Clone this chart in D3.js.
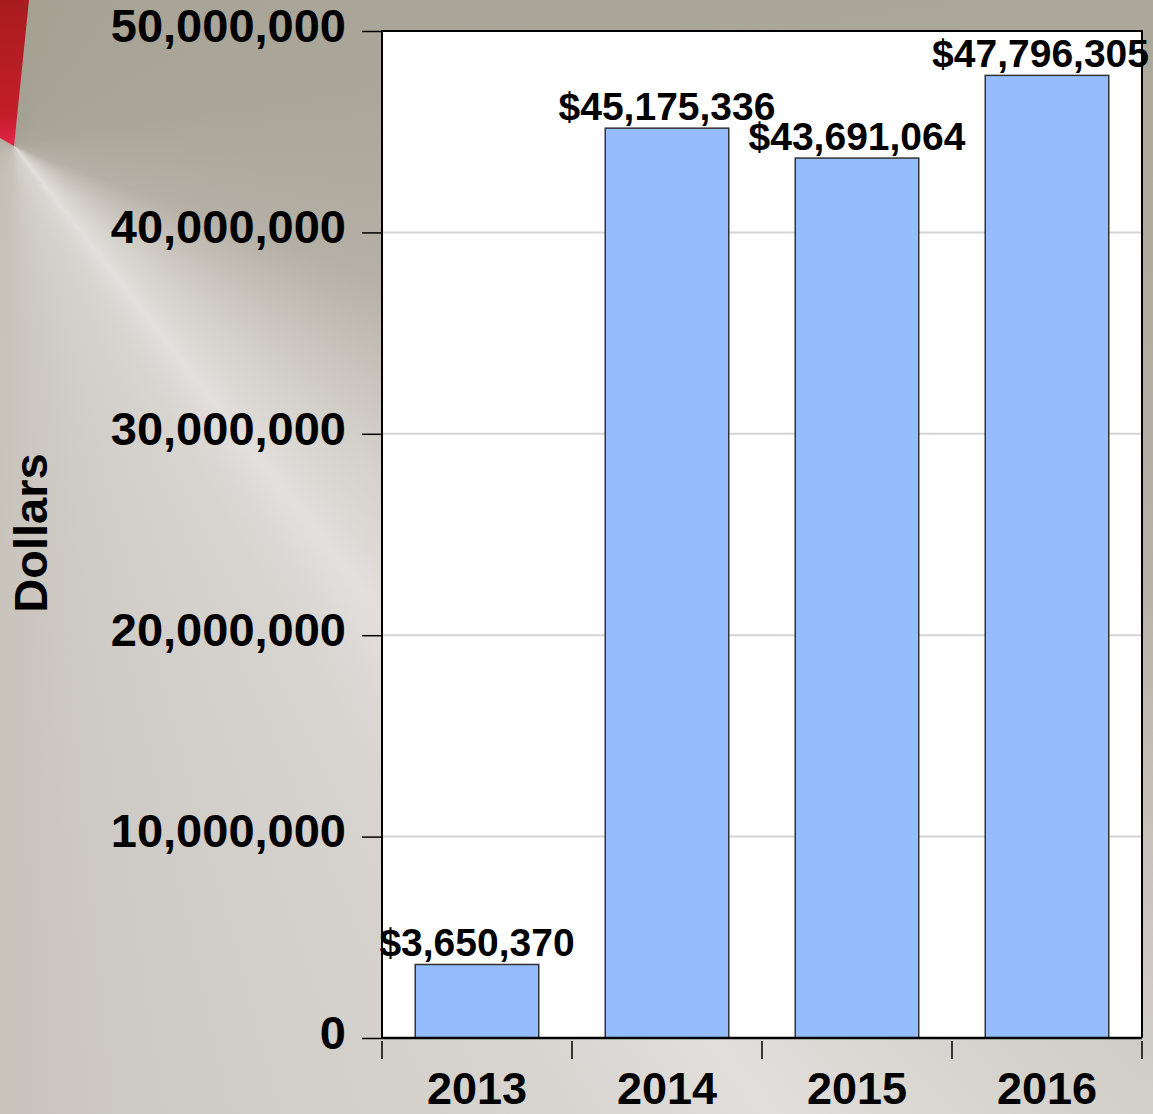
<!DOCTYPE html>
<html>
<head>
<meta charset="utf-8">
<script src="https://cdn.jsdelivr.net/npm/d3@7"></script>
<style>
    body { margin: 0; }
    .chartBoard {
        width: 1153px;
        height: 1114px;
        background: conic-gradient(from 0deg at 14px 146px,
            #a4a193 0deg, #aaa699 80deg, #b4b0a5 110deg, #cac6bf 124deg, #d6d2cd 133deg,
            #e2dfdc 142deg, #d8d4d0 150deg, #cfcbc6 170deg, #c6c2b9 185deg,
            #bfbbb1 230deg, #a4a193 360deg);
    }
    svg text { font-family: "Liberation Sans", Arial, sans-serif; font-weight: bold; fill: #000; }
</style>
</head>
<body>
<div class="chartBoard"></div>
<script>
// chart data
const years = ["2013", "2014", "2015", "2016"];
const dollars = [3650370, 45175336, 43691064, 47796305];
const yTicks = [0, 10000000, 20000000, 30000000, 40000000, 50000000];

const w = 1153, h = 1114;
const pLeft = 382, pRight = 1142, pTop = 31, pBottom = 1038;

const svg = d3.select(".chartBoard")
    .append("svg")
    .attr("width", w)
    .attr("height", h);

// red corner decoration
const defs = svg.append("defs");
const redGrad = defs.append("linearGradient")
    .attr("id", "redGrad")
    .attr("x1", 0).attr("y1", 0).attr("x2", 0).attr("y2", 1);
redGrad.append("stop").attr("offset", "0%").attr("stop-color", "#a81c1f");
redGrad.append("stop").attr("offset", "80%").attr("stop-color", "#c41e2a");
redGrad.append("stop").attr("offset", "100%").attr("stop-color", "#e8234a");
svg.append("path")
    .attr("d", "M0,0 L29,0 L14,146 L0,138 Z")
    .attr("fill", "url(#redGrad)");

// scales
const x = d3.scaleBand()
    .domain(years)
    .range([pLeft, pRight])
    .paddingInner(0.35)
    .paddingOuter(0.175);

const y = d3.scaleLinear()
    .domain([0, 50000000])
    .range([pBottom, pTop]);

// plot background
svg.append("rect")
    .attr("x", pLeft).attr("y", pTop)
    .attr("width", pRight - pLeft).attr("height", pBottom - pTop)
    .attr("fill", "#fff");

// grid lines
svg.append("g")
    .selectAll("line")
    .data(yTicks.filter(d => d > 0 && d < 50000000))
    .enter()
    .append("line")
    .attr("x1", pLeft).attr("x2", pRight)
    .attr("y1", d => y(d)).attr("y2", d => y(d))
    .attr("stroke", "#d4d4d4")
    .attr("stroke-width", 2);

// bars
svg.selectAll("rect.bar")
    .data(years)
    .enter()
    .append("rect")
    .attr("class", "bar")
    .attr("x", d => x(d))
    .attr("width", x.bandwidth())
    .attr("y", (d, i) => y(dollars[i]))
    .attr("height", (d, i) => pBottom - y(dollars[i]))
    .attr("fill", "#95bcfd")
    .attr("stroke", "#333")
    .attr("stroke-width", 1.5);

// plot frame
svg.append("path")
    .attr("d", `M${pLeft},${pBottom} V${pTop} H${pRight} V${pBottom}`)
    .attr("fill", "none")
    .attr("stroke", "#000")
    .attr("stroke-width", 2);

// Y AXIS
const yAxis = d3.axisLeft(y)
    .tickValues(yTicks)
    .tickFormat(d3.format(","))
    .tickSize(20)
    .tickPadding(16);

const gy = svg.append("g")
    .attr("transform", `translate(${pLeft},0)`)
    .call(yAxis);
gy.select(".domain").remove();
gy.selectAll(".tick line").attr("stroke", "#000").attr("stroke-width", 1.5);
gy.selectAll(".tick text")
    .attr("dy", "0.22em")
    .style("font-size", "47px")
    .style("font-family", "'Liberation Sans', Arial, sans-serif")
    .style("font-weight", "bold");

// X AXIS
svg.append("line")
    .attr("x1", pLeft).attr("x2", pRight)
    .attr("y1", pBottom).attr("y2", pBottom)
    .attr("stroke", "#000")
    .attr("stroke-width", 2.5);

const edge = (x.step() - x.bandwidth()) / 2;
const edges = years.map(d => x(d) - edge).concat([x(years[years.length - 1]) + x.bandwidth() + edge]);
svg.append("g")
    .selectAll("line")
    .data(edges)
    .enter()
    .append("line")
    .attr("x1", d => d).attr("x2", d => d)
    .attr("y1", pBottom + 3).attr("y2", pBottom + 21)
    .attr("stroke", "#000")
    .attr("stroke-width", 1.5);

svg.append("g")
    .selectAll("text")
    .data(years)
    .enter()
    .append("text")
    .attr("x", d => x(d) + x.bandwidth() / 2)
    .attr("y", pBottom + 66)
    .attr("text-anchor", "middle")
    .style("font-size", "45px")
    .text(d => d);

// value labels
svg.append("g")
    .selectAll("text")
    .data(years)
    .enter()
    .append("text")
    .attr("x", d => x(d) + x.bandwidth() / 2)
    .attr("y", (d, i) => y(dollars[i]) - 8)
    .attr("text-anchor", "middle")
    .style("font-size", "39px")
    .text((d, i) => "$" + d3.format(",")(dollars[i]))
    .each(function () {
        // keep the label inside the page
        const len = this.getComputedTextLength();
        const cx = +this.getAttribute("x");
        if (cx + len / 2 > w - 4) this.setAttribute("x", w - 4 - len / 2);
    });

// y title
svg.append("text")
    .attr("transform", "translate(47,533) rotate(-90)")
    .attr("text-anchor", "middle")
    .style("font-size", "47px")
    .text("Dollars");
</script>
</body>
</html>
